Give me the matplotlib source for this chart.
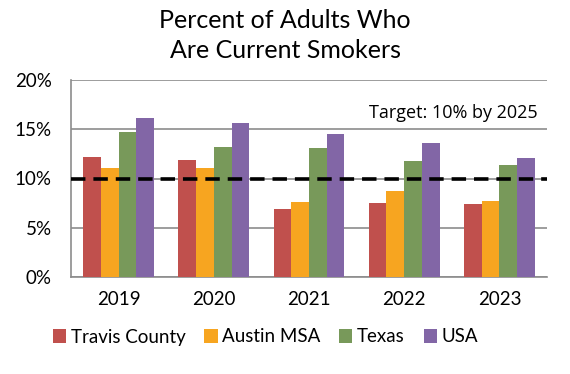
import numpy as np
import matplotlib
matplotlib.use("Agg")
import matplotlib.pyplot as plt

# data (percent)
years = ["2019", "2020", "2021", "2022", "2023"]
travis = [12.2, 11.9, 6.9, 7.5, 7.4]
austin = [11.1, 11.1, 7.6, 8.7, 7.7]
texas = [14.7, 13.2, 13.1, 11.8, 11.4]
usa = [16.1, 15.6, 14.5, 13.6, 12.1]
series_names = ["Travis County", "Austin MSA", "Texas", "USA"]
target = 10
y_ticks = [0, 5, 10, 15, 20]

colors = ["#C0504D", "#F7A520", "#78995A", "#8266A6"]
grid_col = "#8C8C8C"

plt.rcParams['font.family'] = ['Lato', 'DejaVu Sans']

fig = plt.figure(figsize=(5.7, 3.74), dpi=100)
ax = fig.add_axes([71/570, 1 - 277/374, 476/570, 197/374])

x = np.arange(len(years))
w = 0.186
for i, (vals, name) in enumerate(zip([travis, austin, texas, usa], series_names)):
	ax.bar(x + (i - 1.5) * w, vals, width=w, color=colors[i], label=name, zorder=3)

# target line
ax.axhline(target, color="black", linestyle=(0, (4, 2.2)), linewidth=2.6, zorder=4)
ax.text(4.4, 16.6, "Target: 10% by 2025", ha="right", va="center", fontsize=13,
	family=['Open Sans', 'DejaVu Sans'])

ax.set_xlim(-0.5, 4.5)
ax.set_ylim(0, 20)
ax.set_yticks(y_ticks)
ax.set_yticklabels([f"{t}%" for t in y_ticks])
ax.set_xticks(x)
ax.set_xticklabels(years)
ax.yaxis.grid(True, color=grid_col, linewidth=1.2, zorder=0)
ax.tick_params(axis="both", length=0, labelsize=13.5, colors="black")
ax.tick_params(axis="x", pad=10)
ax.tick_params(axis="y", pad=14)
for s in ["top", "right"]:
	ax.spines[s].set_visible(False)
for s in ["left", "bottom"]:
	ax.spines[s].set_color(grid_col)
	ax.spines[s].set_linewidth(1.2)

fig.text(0.5, 1 - 20/374, "Percent of Adults Who", ha="center", va="center", fontsize=18)
fig.text(0.5, 1 - 50/374, "Are Current Smokers", ha="center", va="center", fontsize=18)

fig.legend(loc="center", bbox_to_anchor=(0.466, 1 - 337/374), ncol=4, frameon=False,
	fontsize=13.5, handlelength=0.7, handleheight=0.7, handletextpad=0.25, columnspacing=1.0)

fig.savefig("out.png", dpi=100)
